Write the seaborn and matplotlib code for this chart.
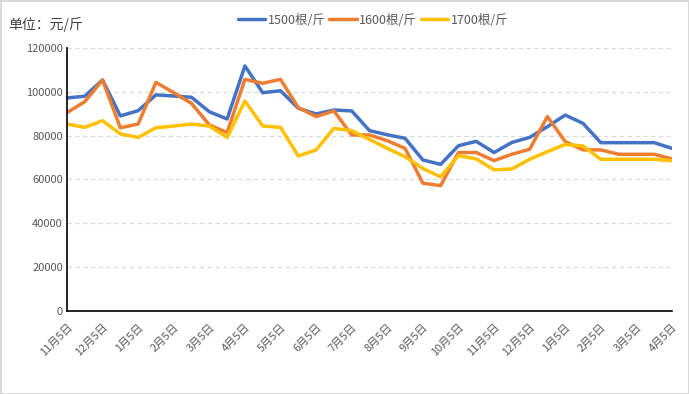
import numpy as np
import pandas as pd
import matplotlib.pyplot as plt
import seaborn as sns

# x-axis labels (one per month, data is twice a month)
month_labels = ['11月5日', '12月5日', '1月5日', '2月5日', '3月5日', '4月5日', '5月5日',
                '6月5日', '7月5日', '8月5日', '9月5日', '10月5日', '11月5日', '12月5日',
                '1月5日', '2月5日', '3月5日', '4月5日']

# prices, yuan per jin
p1500 = [97200, 98000, 105400, 89000, 91400, 98600, 98100, 97500, 90900, 87600,
         111800, 99600, 100500, 92500, 89900, 91700, 91300, 82300, 80400, 78800,
         68900, 66900, 75400, 77400, 72300, 76900, 79200, 84100, 89400, 85600,
         76800, 76800, 76800, 76800, 74200]
p1600 = [90500, 95500, 105400, 83600, 85300, 104300, 99600, 94700, 84900, 81400,
         105700, 103900, 105700, 92800, 88700, 91300, 80300, 80300, 77700, 74200,
         58300, 57200, 72300, 72300, 68600, 71500, 73800, 88700, 77300, 73500,
         73500, 71500, 71500, 71500, 69400]
p1700 = [85300, 83800, 86800, 80800, 79200, 83600, 84400, 85300, 84400, 79200,
         95800, 84400, 83800, 70700, 73500, 83300, 82300, 78300, 74200, 70400,
         65000, 61200, 70900, 69400, 64400, 64800, 69200, 72700, 76000, 75300,
         69200, 69200, 69200, 69200, 68500]
series_names = ['1500根/斤', '1600根/斤', '1700根/斤']
colors = ['#4472C4', '#ED7D31', '#FFC000']

idx = np.arange(len(p1500))
df = pd.DataFrame({'idx': idx, series_names[0]: p1500,
                   series_names[1]: p1600, series_names[2]: p1700})
long = df.melt(id_vars='idx', var_name='规格', value_name='价格')

sns.set_style('white')
plt.rcParams['font.family'] = ['Noto Sans CJK SC', 'DejaVu Sans']

fig = plt.figure(figsize=(6.89, 3.94), dpi=100, edgecolor='#d9d9d9', linewidth=2)
ax = fig.add_axes([0.0972, 0.2107, 0.8781, 0.6675])

sns.lineplot(data=long, x='idx', y='价格', hue='规格', palette=colors,
             linewidth=2.5, ax=ax, legend=True)

ax.set_xlim(0, len(idx) - 1)
ax.set_ylim(0, 120000)
ax.set_yticks(range(0, 120001, 20000))
ax.set_yticklabels([str(v) for v in range(0, 120001, 20000)], fontsize=8, color='#595959')
ax.set_xticks(idx[::2])
ax.set_xticklabels(month_labels, rotation=45, ha='right', rotation_mode='anchor',
                   fontsize=8, color='#595959')
ax.tick_params(axis='both', direction='in', length=4, width=1, color='black', pad=3)
ax.tick_params(axis='x', pad=8)
ax.grid(axis='y', linestyle=(0, (4, 3)), color='#d9d9d9', linewidth=0.8)
ax.set_axisbelow(True)
for s in ['top', 'right']:
    ax.spines[s].set_visible(False)
for s in ['left', 'bottom']:
    ax.spines[s].set_color('black')
    ax.spines[s].set_linewidth(1.2)
ax.set_xlabel('')
ax.set_ylabel('')

handles, labels = ax.get_legend_handles_labels()
ax.legend_.remove()
fig.legend(handles, labels, loc='center', bbox_to_anchor=(373 / 689, 1 - 20 / 394),
           ncol=3, frameon=False, fontsize=9, handlelength=2.2, columnspacing=0.3,
           handletextpad=0.2, labelcolor='#595959')

fig.text(8 / 689, 1 - 25 / 394, '单位：元/斤', fontsize=10, color='#404040',
         ha='left', va='center')

fig.savefig('out.png', dpi=100)
